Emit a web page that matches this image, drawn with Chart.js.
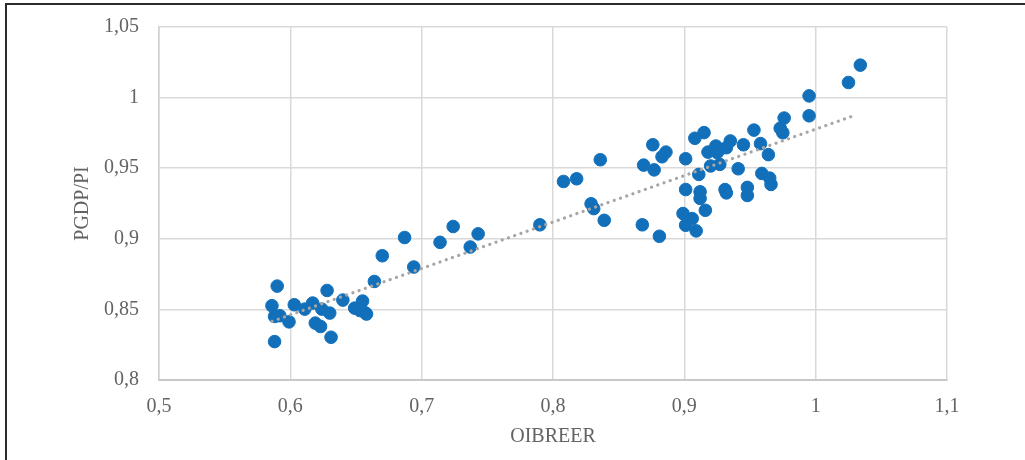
<!DOCTYPE html>
<html>
<head>
<meta charset="utf-8">
<script src="https://cdn.jsdelivr.net/npm/chart.js@4/dist/chart.umd.min.js"></script>
<style>
  html, body { margin: 0; padding: 0; background: #fff; }
  #wrap { position: relative; width: 1025px; height: 460px; overflow: hidden; }
  #frame { position: absolute; left: 5px; top: 3px; width: 1030px; height: 470px;
           border-top: 2px solid #2b2b2b; border-left: 2px solid #2b2b2b; box-sizing: border-box; }
  #box { position: absolute; left: 0; top: 0; width: 1025px; height: 460px; }
</style>
</head>
<body>
<div id="wrap">
  <div id="frame"></div>
  <div id="box"><canvas id="myChart"></canvas></div>
</div>
<script>
const oibreer = [
  0.586, 0.590, 0.588, 0.592, 0.599, 0.588, 0.603, 0.611, 0.617, 0.624,
  0.630, 0.628, 0.619, 0.623, 0.631, 0.640, 0.649, 0.653, 0.655, 0.658,
  0.657, 0.664, 0.670, 0.687, 0.694, 0.714, 0.724, 0.737, 0.743, 0.790,
  0.808, 0.818, 0.836, 0.829, 0.831, 0.839, 0.868, 0.869, 0.877, 0.876,
  0.881, 0.883, 0.886, 0.901, 0.901, 0.911, 0.899, 0.901, 0.906, 0.909,
  0.916, 0.912, 0.912, 0.908, 0.915, 0.918, 0.924, 0.925, 0.927, 0.932,
  0.935, 0.920, 0.927, 0.931, 0.932, 0.941, 0.945, 0.948, 0.948, 0.953,
  0.958, 0.964, 0.959, 0.965, 0.966, 0.973, 0.975, 0.976, 0.995, 0.995,
  1.025, 1.034
];
const pgdpPi = [
  0.8526, 0.8665, 0.8450, 0.8455, 0.8412, 0.8272, 0.8533, 0.8502, 0.8545, 0.8502,
  0.8474, 0.8634, 0.8403, 0.8379, 0.8303, 0.8566, 0.8509, 0.8492, 0.8559, 0.8467,
  0.8476, 0.8698, 0.8880, 0.9009, 0.8800, 0.8975, 0.9087, 0.8942, 0.9035, 0.9099,
  0.9406, 0.9425, 0.9560, 0.9248, 0.9214, 0.9131, 0.9099, 0.9522, 0.9488, 0.9666,
  0.9018, 0.9581, 0.9614, 0.9567, 0.9349, 0.9456, 0.9179, 0.9096, 0.9143, 0.9056,
  0.9202, 0.9333, 0.9286, 0.9712, 0.9752, 0.9614, 0.9657, 0.9610, 0.9633, 0.9645,
  0.9693, 0.9516, 0.9527, 0.9349, 0.9325, 0.9496, 0.9666, 0.9364, 0.9307, 0.9770,
  0.9674, 0.9596, 0.9463, 0.9430, 0.9385, 0.9783, 0.9751, 0.9855, 0.9871, 1.0012,
  1.0107, 1.0230
];
// linear trendline ends, as seen in the picture
const trendX = [0.586, 1.030];
const trendY = [0.8415, 0.9875];

const xTicks = [0.5, 0.6, 0.7, 0.8, 0.9, 1, 1.1];
const yTicks = [0.8, 0.85, 0.9, 0.95, 1, 1.05];

const pts = oibreer.map((x, i) => ({x: x, y: pgdpPi[i]}));
const trendPts = trendX.map((x, i) => ({x: x, y: trendY[i]}));

//comma decimals like the original
function fmt(v) {
    return String(Number(v.toFixed(2))).replace('.', ',');
}

const font = {family: 'Liberation Serif', size: 20};
const txt = '#636363';
const gridCol = '#d9d9d9';

const ctx = document.getElementById('myChart').getContext('2d');
const myChart = new Chart(ctx, {
    type: 'scatter',
    data: {
        datasets: [{
            label: 'trend',
            type: 'line',
            data: trendPts,
            borderColor: '#a6a6a6',
            borderWidth: 3.2,
            borderDash: [0.1, 6.5],
            borderCapStyle: 'round',
            pointRadius: 0,
            fill: false,
            order: 0
        }, {
            label: 'PGDP/PI',
            data: pts,
            backgroundColor: '#1270bb',
            borderColor: '#1270bb',
            pointRadius: 6.3,
            pointHoverRadius: 6.3,
            order: 1
        }]
    },
    options: {
        responsive: true,
        maintainAspectRatio: false,
        animation: false,
        events: [],
        layout: {padding: {top: 27, right: 78, bottom: 0, left: 0}},
        plugins: {legend: {display: false}, tooltip: {enabled: false}},
        scales: {
            x: {
                type: 'linear',
                min: 0.5, max: 1.1,
                afterBuildTicks: (s) => { s.ticks = xTicks.map(v => ({value: v})); },
                afterFit: (s) => { s.height = 80; },
                ticks: {font: font, color: txt, padding: 15, callback: fmt, maxRotation: 0},
                grid: {color: gridCol, lineWidth: 1.5, drawTicks: false},
                border: {color: '#c8c8c8', width: 2},
                title: {display: true, text: 'OIBREER', font: font, color: txt, padding: {top: 0, bottom: 11}}
            },
            y: {
                min: 0.8, max: 1.05,
                afterBuildTicks: (s) => { s.ticks = yTicks.map(v => ({value: v})); },
                // fixed width, and drop the label overhang padding so the top edge sits where the layout puts it
                afterFit: (s) => { s.width = 159; s.paddingTop = 0; s.paddingBottom = 0; },
                ticks: {font: font, color: txt, padding: 20, callback: fmt},
                grid: {color: gridCol, lineWidth: 1.5, drawTicks: false},
                border: {color: '#d0d0d0', width: 1.5},
                title: {display: true, text: 'PGDP/PI', font: font, color: txt, padding: {top: 71, bottom: 0}}
            }
        }
    }
});
</script>
</body>
</html>
